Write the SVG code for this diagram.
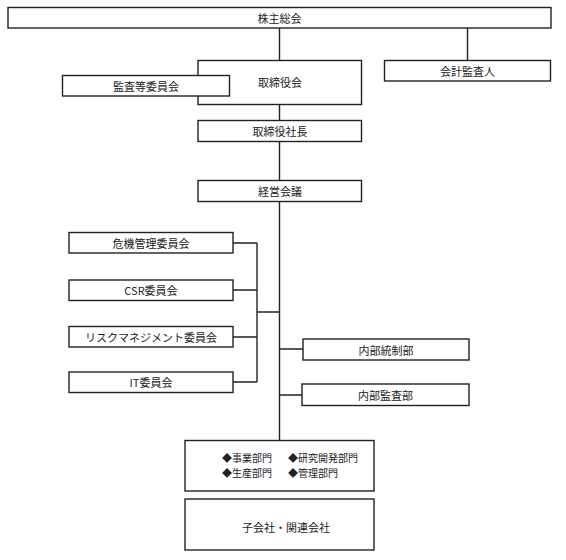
<svg xmlns="http://www.w3.org/2000/svg" width="566" height="560" viewBox="0 0 566 560">
<style>
.b{fill:#fff;stroke:#222;stroke-width:1.4}
.c{fill:none;stroke:#222;stroke-width:1.4}
text{font-family:"Noto Sans CJK JP","Noto Sans CJK SC",sans-serif;font-size:11px;fill:#222;text-anchor:middle;dominant-baseline:central}
.l{text-anchor:start;font-size:10px}
</style>
<rect width="566" height="560" fill="#fff"/>
<g id="connectors">
<path class="c" d="M279.5 28V60M279.5 105V120M279.5 142V180M279.5 202V440"/>
<path class="c" d="M467.5 28V60"/>
<path class="c" d="M233 243H257M233 290H257M233 337H257M233 382H257M257 243V382M257 312H279.5"/>
<path class="c" d="M279.5 349H303M279.5 395H302"/>
</g>
<g id="n-kabunushi"><rect class="b" x="8" y="7.5" width="543" height="20.5"/><text x="279.5" y="18">株主総会</text></g>
<g id="n-torishimariyakukai"><rect class="b" x="198" y="60.5" width="163.5" height="44"/><text x="280" y="82">取締役会</text></g>
<g id="n-kansatou"><rect class="b" x="62.5" y="75.5" width="167" height="20.5"/><text x="146" y="86">監査等委員会</text></g>
<g id="n-kaikei"><rect class="b" x="384.5" y="60.5" width="166" height="20.5"/><text x="467.5" y="71">会計監査人</text></g>
<g id="n-shachou"><rect class="b" x="198" y="120.5" width="163.5" height="21"/><text x="280" y="131">取締役社長</text></g>
<g id="n-keiei"><rect class="b" x="198" y="180.5" width="163.5" height="21"/><text x="280" y="191">経営会議</text></g>
<g id="n-kiki"><rect class="b" x="69" y="232.5" width="164" height="20.5"/><text x="151" y="243">危機管理委員会</text></g>
<g id="n-csr"><rect class="b" x="69" y="280" width="164" height="20.5"/><text x="151" y="290">CSR委員会</text></g>
<g id="n-risk"><rect class="b" x="69" y="326.5" width="164" height="20.5"/><text x="151" y="337">リスクマネジメント委員会</text></g>
<g id="n-it"><rect class="b" x="69" y="372" width="164" height="20.5"/><text x="151" y="382">IT委員会</text></g>
<g id="n-naibutousei"><rect class="b" x="303" y="339" width="166" height="21"/><text x="386" y="349.5">内部統制部</text></g>
<g id="n-naibukansa"><rect class="b" x="302" y="384" width="167" height="21.5"/><text x="385.5" y="395">内部監査部</text></g>
<g id="n-bumon"><rect class="b" x="185" y="440.5" width="189" height="50.5"/>
<text class="l" x="222" y="457.5">◆事業部門</text><text class="l" x="288" y="457.5">◆研究開発部門</text>
<text class="l" x="222" y="472.5">◆生産部門</text><text class="l" x="288" y="472.5">◆管理部門</text></g>
<g id="n-kogaisha"><rect class="b" x="185" y="499" width="189" height="51"/><text x="286" y="526.5">子会社・関連会社</text></g>
</svg>
